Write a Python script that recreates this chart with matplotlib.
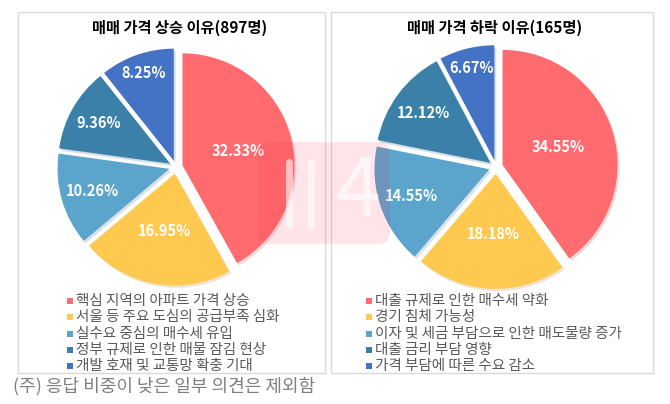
import numpy as np
import matplotlib
matplotlib.use("Agg")
import matplotlib.pyplot as plt
from matplotlib.patches import Rectangle, FancyBboxPatch

plt.rcParams['font.family'] = ['Noto Sans CJK KR', 'DejaVu Sans']

# ---------------- data ----------------
left_title = "매매 가격 상승 이유(897명)"
left_categories = ["핵심 지역의 아파트 가격 상승",
                   "서울 등 주요 도심의 공급부족 심화",
                   "실수요 중심의 매수세 유입",
                   "정부 규제로 인한 매물 잠김 현상",
                   "개발 호재 및 교통망 확충 기대"]
left_values = [32.33, 16.95, 10.26, 9.36, 8.25]

right_title = "매매 가격 하락 이유(165명)"
right_categories = ["대출 규제로 인한 매수세 약화",
                    "경기 침체 가능성",
                    "이자 및 세금 부담으로 인한 매도물량 증가",
                    "대출 금리 부담 영향",
                    "가격 부담에 따른 수요 감소"]
right_values = [34.55, 18.18, 14.55, 12.12, 6.67]

footnote = "(주) 응답 비중이 낮은 일부 의견은 제외함"

# ---------------- style ----------------
colors = ['#FF6B6E', '#FFC84F', '#5BA5CD', '#3A80A8', '#4472C4']
label_radii = [0.57, 0.58, 0.78, 0.79, 0.89]
W, H = 670, 404
fig = plt.figure(figsize=(W / 100, H / 100), dpi=100)
fig.patch.set_facecolor('white')

# background axes in pixel coords
bg = fig.add_axes([0, 0, 1, 1], zorder=0)
bg.set_xlim(0, W); bg.set_ylim(H, 0); bg.axis('off')
for (x0, x1) in [(18, 325), (331, 653)]:
    bg.add_patch(Rectangle((x0, 12), x1 - x0, 361, fill=False,
                           edgecolor='#d9d9d9', lw=1.0))


def draw_pie(cx, cy, r, values, title, tx, categories, mx):
    lim = 1.15
    size = 2 * lim * r
    ax = fig.add_axes([(cx - size / 2) / W, (H - cy - size / 2) / H,
                       size / W, size / H], zorder=2)
    ax.set_xlim(-lim, lim); ax.set_ylim(-lim, lim)
    ax.set_aspect('equal'); ax.axis('off')
    wedges, _ = ax.pie(values, colors=colors, startangle=90, counterclock=False,
                       explode=[0.06] * len(values), radius=1.0,
                       wedgeprops=dict(linewidth=0),
                       shadow=dict(ox=0.012, oy=-0.015, shade=0.4, alpha=0.18))
    ax.set_xlim(-lim, lim); ax.set_ylim(-lim, lim)
    for w, v, d in zip(wedges, values, label_radii):
        ang = np.deg2rad((w.theta1 + w.theta2) / 2)
        ax.text(d * np.cos(ang), d * np.sin(ang), f"{v:.2f}%",
                ha='center', va='center', color='white',
                fontsize=10.5, fontweight='bold', zorder=5)
    bg.text(tx, 28, title, ha='center', va='center', fontsize=11,
            fontweight='bold', color='black')
    y = 301
    for c, lab in zip(colors, categories):
        bg.add_patch(Rectangle((mx - 3, y - 3), 6, 6, facecolor=c,
                               edgecolor='none'))
        bg.text(mx + 6, y, lab, ha='left', va='center', fontsize=10.5,
                color='#595959')
        y += 16.3


draw_pie(176, 167, 112, left_values, left_title, 180, left_categories, 70)
draw_pie(496, 167, 115, right_values, right_title, 495, right_categories, 369)

bg.text(13, 386, footnote, ha='left', va='center', fontsize=13,
        color='#7f7f7f')

# watermark overlay
ov = fig.add_axes([0, 0, 1, 1], zorder=10)
ov.set_xlim(0, W); ov.set_ylim(H, 0); ov.axis('off')
ov.patch.set_alpha(0)
ov.add_patch(FancyBboxPatch((258, 142), 132, 102,
                            boxstyle="round,pad=0,rounding_size=12",
                            facecolor='#ff3050', alpha=0.12, edgecolor='none'))
for xb in (289, 311):
    ov.plot([xb, xb], [162, 225], color='white', lw=5, alpha=0.6,
            solid_capstyle='round')
ov.text(358, 192, "4", ha='center', va='center', fontsize=58,
        color='white', alpha=0.6)

fig.savefig("out.png", dpi=100)
